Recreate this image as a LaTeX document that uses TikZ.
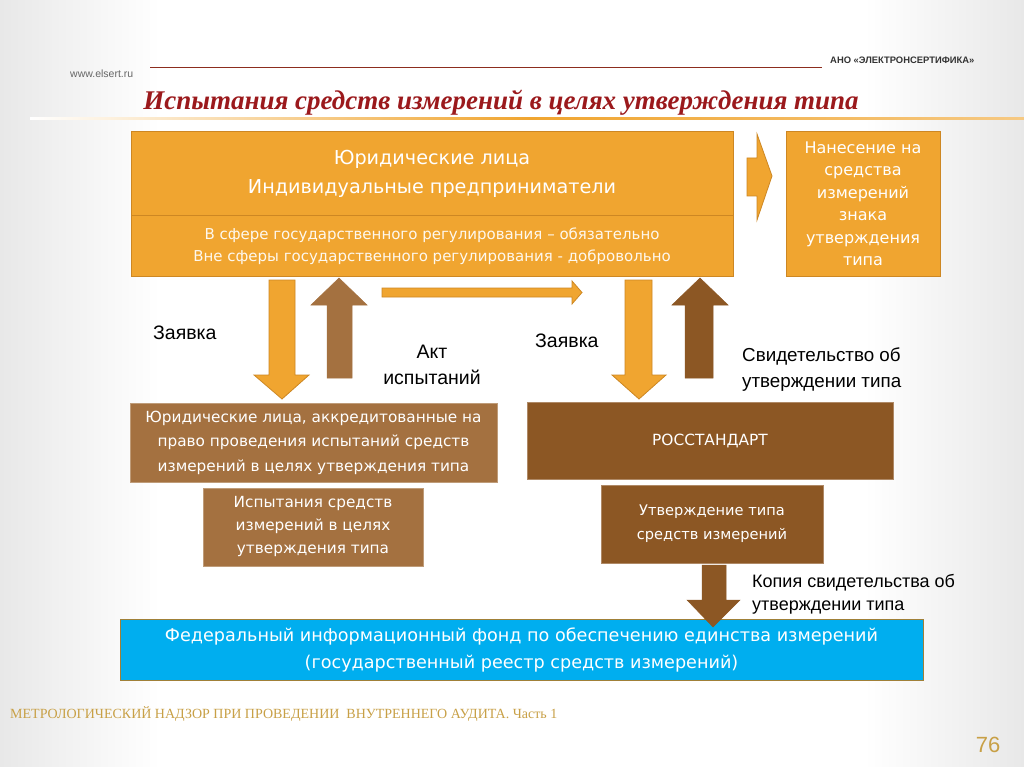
\documentclass[tikz,border=0pt]{standalone}
\usepackage{fontspec}
\setmainfont{Liberation Sans}
\newfontfamily\serifit{Liberation Serif}
\newfontfamily\boxfont{DejaVu Sans}
\definecolor{orng}{RGB}{240,165,48}
\definecolor{orngdk}{RGB}{205,135,35}
\definecolor{lbrown}{RGB}{164,113,64}
\definecolor{dbrown}{RGB}{140,87,36}
\definecolor{skyb}{RGB}{0,174,239}
\definecolor{titred}{RGB}{155,25,28}
\definecolor{linered}{RGB}{140,45,30}
\definecolor{goldf}{RGB}{200,160,70}
\tikzset{
  obox/.style={draw=orngdk, line width=1pt, fill=orng, text=white, align=center, inner sep=0pt},
  lbbox/.style={draw=lbrown!70!white, line width=0.8pt, fill=lbrown, text=white, align=center, inner sep=0pt},
  dbbox/.style={draw=dbrown!70!white, line width=0.8pt, fill=dbrown, text=white, align=center, inner sep=0pt},
  lbl/.style={text=black, align=left, inner sep=0pt, font=\fontsize{19.5}{26}\selectfont},
  oarrow/.style={fill=orng, draw=orngdk, line width=0.8pt, line join=miter},
  lbarrow/.style={fill=lbrown, draw=lbrown, line width=0.5pt},
  dbarrow/.style={fill=dbrown, draw=dbrown, line width=0.5pt},
}
\begin{document}
\begin{tikzpicture}[x=1pt,y=-1pt]
\useasboundingbox (0,0) rectangle (1024,767);
\fill[white] (0,0) rectangle (1024,767);
\shade[left color=black!9, right color=white] (0,0) rectangle (160,767);
\shade[left color=white, right color=black!9] (864,0) rectangle (1024,767);
% header
\node[anchor=west, text=black!60, font=\fontsize{10.5}{12}\selectfont, inner sep=0pt] (web) at (70,74) {www.elsert.ru};
\coordinate (hl1) at (150,67);
\coordinate (hl2) at (822,67);
\draw[linered, line width=0.8pt] (hl1) -- (hl2);
\node[anchor=west, text=black!80, font=\fontsize{9.4}{11}\bfseries\selectfont, inner sep=0pt] (ano) at (830,60) {АНО «ЭЛЕКТРОНСЕРТИФИКА»};
\node[text=titred, font=\serifit\fontsize{27}{30}\bfseries\itshape\selectfont, inner sep=0pt] (title) at (501,103) {Испытания средств измерений в целях утверждения типа};
\shade[left color=white, right color=orng] (30,117.5) rectangle (530,119.5);
\shade[left color=orng, right color=orng!60!white] (530,117.5) rectangle (1024,119.5);
% top box
\node[obox, minimum width=602pt, minimum height=84pt, font=\boxfont\fontsize{19.2}{29}\selectfont] (top) at (432,174) {Юридические лица\\Индивидуальные предприниматели};
\node[obox, minimum width=602pt, minimum height=60pt, font=\boxfont\fontsize{15}{22}\selectfont, text=white!92!orng] (topb) at (432,246) {В сфере государственного регулирования – обязательно\\Вне сферы государственного регулирования - добровольно};
% right arrow and box
\draw[oarrow] (747,158) -- (757,158) -- (757,134) -- (772,176) -- (757,220) -- (757,196) -- (747,196) -- cycle;
\node[obox, minimum width=154pt, minimum height=144pt, font=\boxfont\fontsize{16}{22.5}\selectfont] (mark) at (863,204) {Нанесение на\\средства\\измерений\\знака\\утверждения\\типа};
% arrows between
\draw[oarrow] (269,280) -- (295,280) -- (295,375) -- (309,375) -- (282,399) -- (254,375) -- (269,375) -- cycle;
\draw[lbarrow] (327,378) -- (352,378) -- (352,305) -- (367,305) -- (339,278) -- (311,305) -- (327,305) -- cycle;
\draw[oarrow] (382,288) -- (572,288) -- (572,281) -- (582,292.5) -- (572,304) -- (572,297) -- (382,297) -- cycle;
\draw[oarrow] (625,280) -- (652,280) -- (652,375) -- (666,375) -- (639,399) -- (612,375) -- (625,375) -- cycle;
\draw[dbarrow] (685,378) -- (713,378) -- (713,305) -- (728,305) -- (700,278) -- (672,305) -- (685,305) -- cycle;
% labels
\node[lbl, anchor=west] (z1) at (153,333) {Заявка};
\node[lbl, align=center] (akt) at (432,365) {Акт\\испытаний};
\node[lbl, anchor=west] (z2) at (535,341) {Заявка};
\node[lbl, anchor=west, font=\fontsize{18.8}{26}\selectfont] (svid) at (742,370) {Свидетельство об\\утверждении типа};
% lower boxes
\node[lbbox, minimum width=367pt, minimum height=79pt, font=\boxfont\fontsize{15.3}{24.5}\selectfont] (acc) at (313.5,442.5) {Юридические лица, аккредитованные на\\право проведения испытаний средств\\измерений в целях утверждения типа};
\node[lbbox, minimum width=220pt, minimum height=78pt, font=\boxfont\fontsize{15.3}{23}\selectfont] (isp) at (313,527) {Испытания средств\\измерений в целях\\утверждения типа};
\node[dbbox, minimum width=366pt, minimum height=77pt, font=\boxfont\fontsize{15.4}{24}\selectfont] (ross) at (710,440.5) {РОССТАНДАРТ};
\node[dbbox, minimum width=222pt, minimum height=78pt, font=\boxfont\fontsize{14.6}{24}\selectfont] (utv) at (712,524) {Утверждение типа\\средств измерений};
\node[lbl, anchor=west, font=\fontsize{18}{23}\selectfont] (kop) at (752,594.5) {Копия свидетельства об\\утверждении типа};
% blue box
\node[draw=goldf!80!black, line width=1pt, fill=skyb, text=white, align=center, inner sep=0pt, minimum width=803pt, minimum height=61pt, font=\boxfont\fontsize{17.6}{27}\selectfont] (fond) at (521.5,649.5) {Федеральный информационный фонд по обеспечению единства измерений\\(государственный реестр средств измерений)};
\draw[dbarrow] (702,565) -- (726,565) -- (726,600) -- (740,600) -- (713,627) -- (687,600) -- (702,600) -- cycle;
% footer
\node[anchor=west, text=goldf, font=\serifit\fontsize{14}{16}\selectfont, inner sep=0pt] (foot) at (10,714) {МЕТРОЛОГИЧЕСКИЙ НАДЗОР ПРИ ПРОВЕДЕНИИ \ ВНУТРЕННЕГО АУДИТА. Часть 1};
\node[text=goldf, font=\fontsize{22}{24}\selectfont, inner sep=0pt] (page) at (988,745) {76};
\end{tikzpicture}
\end{document}
